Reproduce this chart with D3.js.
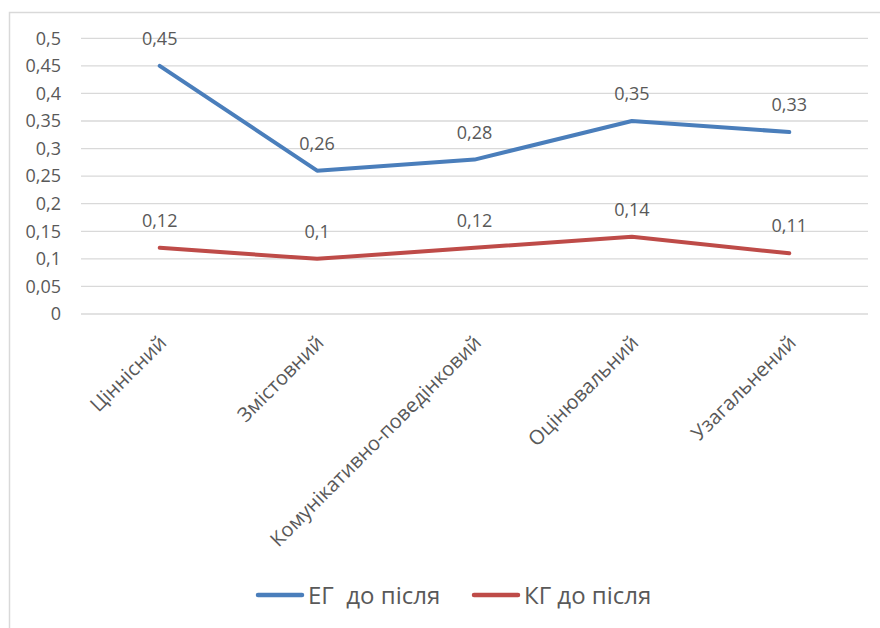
<!DOCTYPE html>
<html>
<head>
<meta charset="utf-8">
<script src="https://cdn.jsdelivr.net/npm/d3@7"></script>
<style>
  html, body { margin: 0; padding: 0; background: #fff; }
  svg { display: block; }
  text { font-family: "Open Sans", "Noto Sans", sans-serif; fill: #595959; }
</style>
</head>
<body>
<svg id="chart" width="880" height="628"></svg>
<script>
// Categories and series
const categories = ["Ціннісний", "Змістовний", "Комунікативно-поведінковий", "Оцінювальний", "Узагальнений"];
const egValues = [0.45, 0.26, 0.28, 0.35, 0.33];
const kgValues = [0.12, 0.10, 0.12, 0.14, 0.11];
const seriesNames = ["ЕГ  до після", "КГ до після"];
const seriesColors = ["#4a7ebb", "#be4b48"];
const yTicks = [0, 0.05, 0.1, 0.15, 0.2, 0.25, 0.3, 0.35, 0.4, 0.45, 0.5];

const FONT = "'Open Sans', 'Noto Sans', sans-serif";
const fmt = v => String(+v.toFixed(2)).replace(".", ",");

const svg = d3.select("#chart");

// Chart area frame
svg.append("rect")
  .attr("x", 9.5).attr("y", 12.5)
  .attr("width", 900).attr("height", 700)
  .attr("fill", "#fff")
  .attr("stroke", "#d9d9d9")
  .attr("stroke-width", 1.5);

const plot = { left: 81, right: 868, top: 38.3, bottom: 314 };

const x = d3.scaleBand().domain(categories).range([plot.left, plot.right]);
const y = d3.scaleLinear().domain([0, 0.5]).range([plot.bottom, plot.top]);

// Horizontal gridlines
svg.append("g")
  .selectAll("line")
  .data(yTicks)
  .join("line")
  .attr("x1", plot.left).attr("x2", plot.right)
  .attr("y1", d => y(d)).attr("y2", d => y(d))
  .attr("stroke", "#d9d9d9")
  .attr("stroke-width", 1.3);

// Y axis labels
const yAxis = d3.axisLeft(y).tickValues(yTicks).tickFormat(fmt).tickSize(0).tickPadding(0);
const yg = svg.append("g").attr("transform", `translate(${plot.left - 20},0)`).call(yAxis);
yg.select(".domain").remove();
yg.selectAll("text")
  .attr("font-size", 18)
  .attr("font-family", FONT)
  .attr("fill", "#595959");

// X axis labels, rotated
const xAxis = d3.axisBottom(x).tickSize(0).tickPadding(0);
const xg = svg.append("g").attr("transform", `translate(0,${plot.bottom + 18})`).call(xAxis);
xg.select(".domain").remove();
xg.selectAll("text")
  .attr("font-size", 20)
  .attr("font-family", FONT)
  .attr("fill", "#595959")
  .attr("text-anchor", "end")
  .attr("dy", "0.35em")
  .attr("transform", "translate(3,7) rotate(-45)");

// Lines and value labels
const cx = d => x(d) + x.bandwidth() / 2;
const line = d3.line()
  .x((d, i) => cx(categories[i]))
  .y(d => y(d));

[egValues, kgValues].forEach((vals, si) => {
  svg.append("path")
    .datum(vals)
    .attr("d", line)
    .attr("fill", "none")
    .attr("stroke", seriesColors[si])
    .attr("stroke-width", 4)
    .attr("stroke-linejoin", "round")
    .attr("stroke-linecap", "round");

  svg.append("g")
    .selectAll("text")
    .data(vals)
    .join("text")
    .attr("x", (d, i) => cx(categories[i]))
    .attr("y", d => y(d) - 21)
    .attr("text-anchor", "middle")
    .attr("font-size", 18)
    .text(fmt);
});

// Legend
const legendItems = [
  { name: seriesNames[0], color: seriesColors[0], x: 256 },
  { name: seriesNames[1], color: seriesColors[1], x: 472 }
];
const lg = svg.append("g");
legendItems.forEach(it => {
  lg.append("line")
    .attr("x1", it.x + 2).attr("x2", it.x + 46)
    .attr("y1", 595).attr("y2", 595)
    .attr("stroke", it.color)
    .attr("stroke-width", 4.5)
    .attr("stroke-linecap", "round");
  lg.append("text")
    .attr("x", it.x + 52)
    .attr("y", 604)
    .attr("font-size", 24)
    .style("white-space", "pre")
    .attr("xml:space", "preserve")
    .text(it.name);
});
</script>
</body>
</html>
